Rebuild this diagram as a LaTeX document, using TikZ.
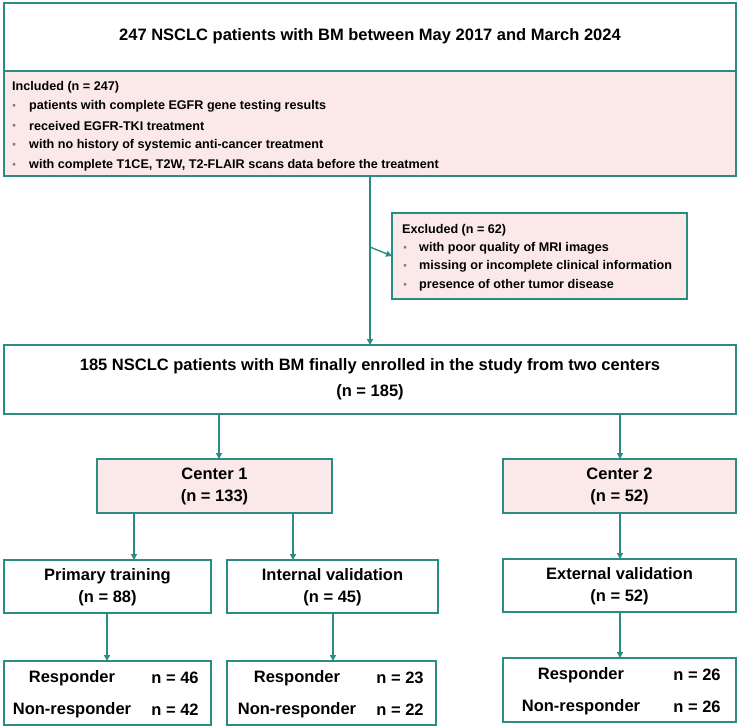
\documentclass[tikz,border=0pt]{standalone}
\usepackage{fontspec}
\setmainfont{Liberation Sans}
\usetikzlibrary{arrows.meta}
\definecolor{teal1}{HTML}{2A8C82}
\definecolor{pinkbg}{HTML}{FBE9EA}
\begin{document}
\begin{tikzpicture}[x=1pt,y=-1pt,
  bx/.style={draw=teal1,line width=1.6pt},
  pk/.style={bx,fill=pinkbg},
  ar/.style={draw=teal1,line width=1.4pt,-{Triangle[length=6pt,width=6pt]}},
  tx/.style={font=\bfseries\fontsize{12.6}{14}\selectfont,anchor=west,inner sep=0pt},
  bt/.style={font=\bfseries\fontsize{16.5}{18}\selectfont,inner sep=0pt,align=center},
  bul/.style={font=\fontsize{7}{8}\selectfont,text=gray,anchor=west,inner sep=0pt}]
\useasboundingbox (0,0) rectangle (740,728);
% top box
\filldraw[pk] (4,71) rectangle (736,176);
\draw[bx] (4,3) rectangle (736,71);
\node[bt] (t1) at (370,36) {247 NSCLC patients with BM between May 2017 and March 2024};
\coordinate (topb) at (370,176);
\node[tx] (inc) at (12,87) {Included (n = 247)};
\foreach \y/\t in {106/patients with complete EGFR gene testing results,126/received EGFR-TKI treatment,145/with no history of systemic anti-cancer treatment,165/{with complete T1CE, T2W, T2-FLAIR scans data before the treatment}}{
  \node[bul] at (12,\y) {$\bullet$};
  \node[tx] at (29,\y) {\t};
}
% excluded
\filldraw[pk] (392,213) rectangle (687,299);
\coordinate (exl) at (392,256);
\node[tx] (exc) at (402,230) {Excluded (n = 62)};
\foreach \y/\t in {248/with poor quality of MRI images,266/missing or incomplete clinical information,285/presence of other tumor disease}{
  \node[bul] at (403,\y) {$\bullet$};
  \node[tx] at (419,\y) {\t};
}
% 185 box
\draw[bx] (4,345) rectangle (736,414);
\node[bt] (e1) at (370,366) {185 NSCLC patients with BM finally enrolled in the study from two centers};
\node[bt] (e2) at (370,392) {(n = 185)};
\coordinate (midt) at (370,345);
\draw[ar] (topb) -- (midt);
\coordinate (br) at (370,247);
\draw[ar] (br) -- (exl);
% centers
\filldraw[pk] (97,459) rectangle (332,513);
\node[bt] (c1) at (214.5,486) {Center 1\\[4pt](n = 133)};
\filldraw[pk] (503,459) rectangle (736,513);
\node[bt] (c2) at (619.5,486) {Center 2\\[4pt](n = 52)};
\draw[ar] (219,414) -- (219,459);
\draw[ar] (620,414) -- (620,459);
% level 3
\draw[bx] (4,560) rectangle (211,613);
\node[bt] (p) at (107.5,587) {Primary training\\[4pt](n = 88)};
\draw[bx] (227,560) rectangle (438,613);
\node[bt] (iv) at (332.5,587) {Internal validation\\[4pt](n = 45)};
\draw[bx] (503,559) rectangle (736,612);
\node[bt] (ev) at (619.5,586) {External validation\\[4pt](n = 52)};
\draw[ar] (134,513) -- (134,560);
\draw[ar] (293,513) -- (293,560);
\draw[ar] (620,513) -- (620,559);
% bottom
\draw[bx] (4,661) rectangle (211,725);
\draw[bx] (227,661) rectangle (436,725);
\draw[bx] (503,658) rectangle (736,722);
\draw[ar] (107,613) -- (107,661);
\draw[ar] (333,613) -- (333,661);
\draw[ar] (620,612) -- (620,658);
\foreach \x/\nx/\y/\a/\b in {72/175/0/46/42, 297/400/0/23/22, 581/697/-3/26/26}{
  \node[bt] at (\x,678+\y) {Responder};
  \node[bt] at (\x,710+\y) {Non-responder};
  \node[bt] at (\nx,678+\y) {n = \a};
  \node[bt] at (\nx,710+\y) {n = \b};
}
\end{tikzpicture}
\end{document}
